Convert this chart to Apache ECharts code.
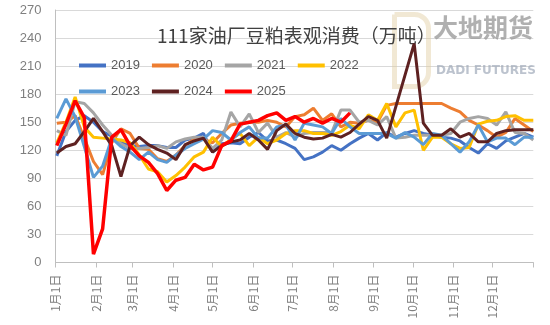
<!DOCTYPE html>
<html><head><meta charset="utf-8">
<script src="https://cdn.jsdelivr.net/npm/echarts@6/dist/echarts.min.js"></script>
<style>html,body{margin:0;padding:0;background:#fff}#c{width:550px;height:325px}</style>
</head><body><div id="c"></div>
<script>
const title = '111家油厂豆粕表观消费（万吨）';
const years = ['2019','2020','2021','2022','2023','2024','2025'];
const colors = ['#4472C4','#ED7D31','#A5A5A5','#FFC000','#5B9BD5','#5E2121','#FF0000'];
const monthStarts = [0,31,59,90,120,151,181,212,243,273,304,334,365];
const monthLabels = ['1月1日','2月1日','3月1日','4月1日','5月1日','6月1日','7月1日','8月1日','9月1日','10月1日','11月1日','12月1日'];
const yTicks = [0,30,60,90,120,150,180,210,240,270];
// weekly observation dates, as day of year
const weekDays = [1,8,15,22,29,36,43,50,57,64,71,78,85,92,99,106,113,120,127,134,141,148,155,162,169,176,183,190,197,204,211,218,225,232,239,246,253,260,267,274,281,288,295,302,309,316,323,330,337,344,351,358,365];

const v2019 = [114,140,152,157,150,140,135,128,125,124,125,125,123,123,131,133,138,118,127,128,127,134,139,130,131,127,122,110,113,118,125,120,127,133,138,131,139,134,138,141,138,136,134,133,130,123,117,127,122,130,134,138,134];
const v2020 = [149,150,157,133,108,94,128,143,138,122,121,111,108,115,125,132,132,128,138,147,149,150,150,152,150,145,156,158,165,152,159,145,150,149,152,150,168,170,170,170,170,170,170,165,161,152,147,141,134,139,154,147,140];
const v2021 = [141,136,172,170,160,147,136,127,122,122,123,125,122,129,132,134,134,122,131,161,145,159,139,149,134,139,134,138,139,139,139,163,163,150,152,147,156,133,134,136,136,136,136,138,150,154,156,154,147,161,139,138,131];
const v2022 = [128,150,177,145,134,133,132,131,128,115,100,97,86,93,102,113,118,134,124,132,138,125,134,127,131,138,141,141,138,138,136,140,147,143,158,152,170,145,160,163,120,134,134,127,122,123,148,151,152,156,157,152,152];
const v2023 = [154,175,156,124,91,103,133,124,118,110,118,110,107,115,122,127,132,141,139,131,139,145,133,133,145,147,131,149,147,145,138,154,145,138,138,138,138,133,139,134,126,138,136,127,118,129,147,129,133,133,126,134,134];
const v2024 = [117,124,127,140,154,140,125,92,125,134,126,121,117,110,126,130,133,118,125,129,131,138,131,121,141,148,138,134,132,133,137,134,139,148,156,152,133,null,null,234,149,136,136,143,134,138,129,129,138,141,142,142,142];
const v2025 = [125,148,173,155,9,36,134,142,125,114,107,95,77,88,91,105,99,102,125,130,148,150,152,157,160,152,156,150,154,149,154,150,160];

const values = [v2019,v2020,v2021,v2022,v2023,v2024,v2025];

const series = years.map((y, k) => ({
  name: y,
  type: 'line',
  symbol: 'none',
  connectNulls: true,
  z: 2 + k,
  lineStyle: {width: k === 6 ? 3.5 : 3, color: colors[k]},
  itemStyle: {color: colors[k]},
  data: values[k].map((v, i) => [weekDays[i], v])
}));

const legendCommon = {
  icon: 'rect', itemWidth: 27, itemHeight: 4, itemGap: 12,
  textStyle: {color: '#595959', fontSize: 13, fontFamily: 'Liberation Sans'}
};

const chart = echarts.init(document.getElementById('c'), null, {renderer: 'canvas'});
chart.setOption({
  animation: false,
  backgroundColor: '#fff',
  color: colors,
  title: {
    text: title, left: 152, top: 21,
    textStyle: {color: '#404040', fontSize: 19, fontWeight: 'normal', fontFamily: 'Noto Sans CJK SC'}
  },
  legend: [
    Object.assign({data: years.slice(0,4), left: 74, top: 54}, legendCommon),
    Object.assign({data: years.slice(4), left: 74, top: 80}, legendCommon)
  ],
  grid: {left: 55.5, right: 16.7, top: 10, bottom: 62.5},
  xAxis: {
    type: 'value', min: 0, max: 365,
    splitLine: {show: false},
    axisLine: {show: true, lineStyle: {color: '#bfbfbf', width: 1}},
    axisTick: {show: true, customValues: monthStarts, length: 5, lineStyle: {color: '#bfbfbf'}},
    axisLabel: {
      customValues: monthStarts.slice(0, 12), rotate: 90, margin: 12,
      color: '#7f7f7f', fontSize: 12, fontFamily: 'Noto Sans CJK SC',
      formatter: (val) => monthLabels[monthStarts.indexOf(val)]
    }
  },
  yAxis: {
    type: 'value', min: yTicks[0], max: yTicks[yTicks.length-1], interval: 30,
    splitLine: {show: true, lineStyle: {color: '#d9d9d9', width: 1}},
    axisLine: {show: true, lineStyle: {color: '#bfbfbf', width: 1}},
    axisTick: {show: false},
    axisLabel: {color: '#7f7f7f', fontSize: 13, margin: 14, fontFamily: 'Liberation Sans'}
  },
  graphic: [
    {type: 'text', left: 433, top: 15, z: 1, style: {text: '大地期货', fill: 'rgba(150,150,150,0.75)', fontSize: 25, fontWeight: 'bold', fontFamily: 'Noto Sans CJK SC'}},
    {type: 'text', left: 436, top: 65, z: 1, style: {text: 'DADI FUTURES', fill: 'rgba(160,170,185,0.7)', fontSize: 12, fontWeight: 'bold', fontFamily: 'DejaVu Sans'}},
    {type: 'rect', left: 392, top: 12, z: 1, shape: {width: 34, height: 72, r: [0, 14, 14, 0]}, style: {fill: 'none', stroke: 'rgba(225,205,160,0.45)', lineWidth: 5}}
  ],
  series: series
});
</script></body></html>
